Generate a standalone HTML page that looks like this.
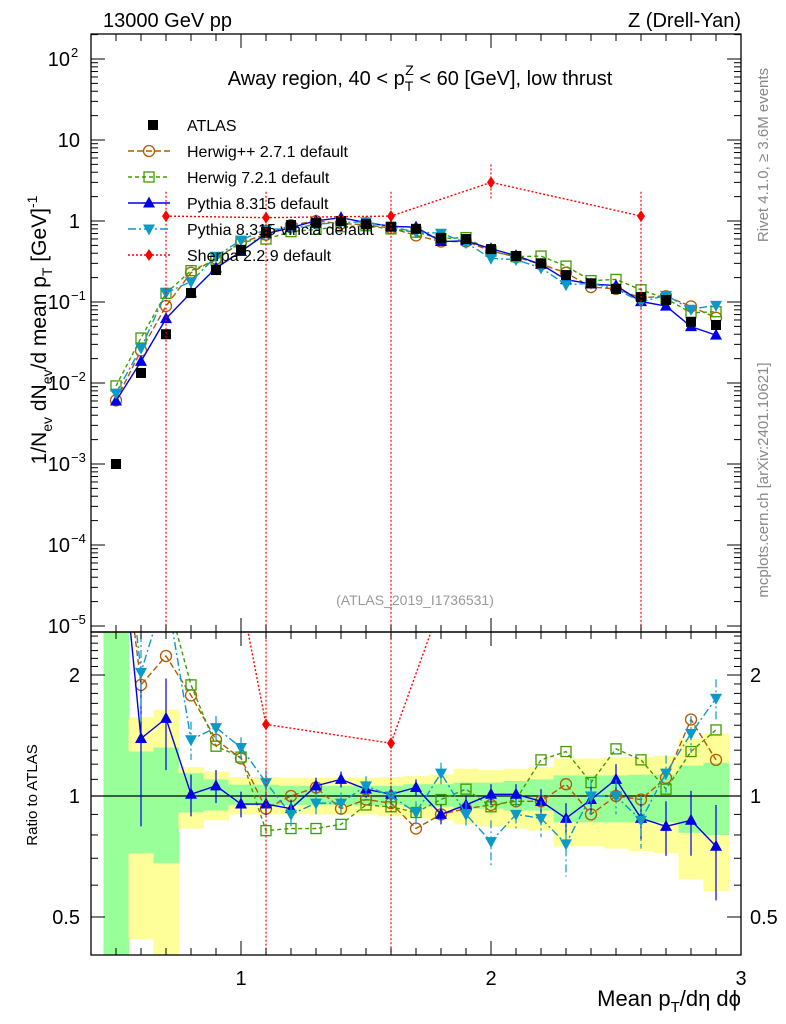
<!DOCTYPE html>
<html><head><meta charset="utf-8"><style>
html,body{margin:0;padding:0;background:#fff;width:786px;height:1024px;overflow:hidden}
svg{display:block;font-family:"Liberation Sans","DejaVu Sans",sans-serif}
</style></head><body>
<svg id="c" width="786" height="1024" viewBox="0 0 786 1024" xmlns="http://www.w3.org/2000/svg">
<defs>
<clipPath id="cm"><rect x="91" y="34" width="650" height="598"/></clipPath>
<clipPath id="cr"><rect x="91" y="632" width="650" height="323"/></clipPath>
</defs>
<g id="bands" clip-path="url(#cr)"></g>
<g id="main" clip-path="url(#cm)"></g>
<g id="ratio" clip-path="url(#cr)"></g>
<g id="axes"></g>
<text x="103" y="27" font-size="20">13000 GeV pp</text>
<text x="741" y="27" font-size="20" text-anchor="end">Z (Drell-Yan)</text>
<text x="420" y="85" font-size="20" text-anchor="middle">Away region, 40 &lt; p<tspan font-size="14" dy="6">T</tspan><tspan font-size="14" dx="-8" dy="-16">Z</tspan><tspan dy="10"> &lt; 60 [GeV], low thrust</tspan></text>
<text x="415" y="605" font-size="14" fill="#999" text-anchor="middle">(ATLAS_2019_I1736531)</text>
<text transform="translate(768,155) rotate(-90)" font-size="15" fill="#888" text-anchor="middle">Rivet 4.1.0, ≥ 3.6M events</text>
<text transform="translate(768,480) rotate(-90)" font-size="15" fill="#888" text-anchor="middle">mcplots.cern.ch [arXiv:2401.10621]</text>
<text transform="translate(46,330) rotate(-90)" font-size="21" text-anchor="middle">1/N<tspan font-size="14" dy="6">ev</tspan><tspan dy="-6"> dN</tspan><tspan font-size="14" dy="6">ev</tspan><tspan dy="-6">/d mean p</tspan><tspan font-size="14" dy="6">T</tspan><tspan dy="-6"> [GeV]</tspan><tspan font-size="14" dy="-9">-1</tspan></text>
<text transform="translate(37,795) rotate(-90)" font-size="15" text-anchor="middle">Ratio to ATLAS</text>
<text x="741" y="1006" font-size="22" text-anchor="end">Mean p<tspan font-size="15" dy="6">T</tspan><tspan dy="-6">/dη dϕ</tspan></text>
<g id="legend"></g>
</svg>
<script>
const xs=[0.5,0.6,0.7,0.8,0.9,1.0,1.1,1.2,1.3,1.4,1.5,1.6,1.7,1.8,1.9,2.0,2.1,2.2,2.3,2.4,2.5,2.6,2.7,2.8,2.9];
const atlas=[0.001,0.0133,0.040,0.129,0.248,0.44,0.73,0.89,0.95,1.0,0.92,0.85,0.80,0.62,0.60,0.45,0.37,0.30,0.215,0.17,0.145,0.115,0.106,0.057,0.052];
const rHerwigpp=[6.1,1.89,2.23,1.78,1.38,1.24,0.93,1.0,1.05,0.93,0.98,0.96,0.83,0.90,0.93,0.95,0.97,0.97,1.07,0.90,1.0,0.98,1.11,1.55,1.23];
const rHerwig7=[9.2,2.7,3.2,1.89,1.33,1.25,0.82,0.83,0.83,0.85,0.95,0.94,0.91,0.98,1.04,0.94,0.98,1.23,1.29,1.08,1.31,1.23,1.04,1.29,1.46];
const rPythia=[6.0,1.39,1.56,1.01,1.06,0.955,0.955,0.93,1.06,1.10,1.04,1.01,1.05,0.90,0.95,1.01,1.01,0.97,0.88,0.98,1.10,0.88,0.84,0.87,0.75];
const rVincia=[7.5,2.03,3.25,1.38,1.48,1.32,1.08,0.90,0.96,0.96,1.06,1.0,0.91,1.14,0.90,0.77,0.90,0.88,0.76,1.0,1.0,0.87,1.14,1.43,1.75];
const ePythia=[0.9,0.55,0.4,0.12,0.1,0.07,0.06,0.05,0.05,0.05,0.05,0.05,0.05,0.05,0.05,0.06,0.06,0.07,0.08,0.08,0.1,0.1,0.13,0.16,0.2];
const eVincia=[1.2,0.5,0.5,0.15,0.1,0.08,0.08,0.06,0.06,0.06,0.06,0.06,0.06,0.07,0.07,0.1,0.08,0.09,0.13,0.1,0.1,0.13,0.12,0.15,0.2];
const sherpaX=[0.7,1.1,1.6,2.0,2.6];
const sherpaY=[1.15,1.1,1.15,3.0,1.15];
const sherpaLo=[1e-6,1e-6,1e-6,1.9,1e-6];
const sherpaHi=[2.3,2.3,2.3,5.0,2.3];
const sherpaRatioBar=[false,true,true,false,false];
const yelHi=[5,1.57,1.64,1.18,1.15,1.115,1.115,1.11,1.11,1.11,1.11,1.115,1.12,1.13,1.17,1.16,1.17,1.18,1.24,1.24,1.25,1.25,1.26,1.39,1.43];
const grnHi=[5,1.29,1.32,1.14,1.10,1.067,1.067,1.06,1.06,1.06,1.06,1.06,1.07,1.07,1.08,1.08,1.09,1.10,1.125,1.125,1.125,1.13,1.13,1.19,1.21];
const grnLo=[0.3,0.72,0.68,0.91,0.92,0.948,0.948,0.95,0.95,0.95,0.95,0.95,0.94,0.94,0.93,0.93,0.92,0.92,0.86,0.86,0.86,0.86,0.86,0.81,0.80];
const yelLo=[0.3,0.44,0.38,0.83,0.87,0.90,0.90,0.90,0.90,0.90,0.90,0.89,0.88,0.87,0.85,0.84,0.83,0.82,0.75,0.75,0.74,0.73,0.72,0.62,0.58];
const ratioTicks=[0.5,1,2];
const mainTickExp=[-5,-4,-3,-2,-1,0,1,2];
const mainTickLabels=["10","10","10","10","10","1","10","10"];
const mainTickSup=["−5","−4","−3","−2","−1","","","2"];
const xMajor=[1,2,3];

const NS="http://www.w3.org/2000/svg";
const X=v=>91+250*(v-0.4);
const YM=v=>221-81*Math.log10(v);
const YR=r=>796-121*Math.log2(r);
function mk(p,t,a){const e=document.createElementNS(NS,t);for(const k in a)e.setAttribute(k,a[k]);p.appendChild(e);return e;}
const gM=document.getElementById('main'),gR=document.getElementById('ratio'),gB=document.getElementById('bands'),gA=document.getElementById('axes'),gL=document.getElementById('legend');

xs.forEach((x,i)=>{
 let r=mk(gB,'rect',{x:X(x-0.05),y:YR(yelHi[i]),width:250*0.1+0.5,height:YR(yelLo[i])-YR(yelHi[i]),fill:'#ffff99'});
 
 let g=mk(gB,'rect',{x:X(x-0.05),y:YR(grnHi[i]),width:250*0.1+0.5,height:YR(grnLo[i])-YR(grnHi[i]),fill:'#99ff99'});
 
});
let one=mk(gR,'line',{x1:91,x2:741,y1:YR(1),y2:YR(1),stroke:'#000','stroke-width':1.2});


function marker(p,type,cx,cy,col){
 let e;
 if(type==='sq')e=mk(p,'rect',{x:cx-5,y:cy-5,width:10,height:10,fill:'#000'});
 else if(type==='circ')e=mk(p,'circle',{cx:cx,cy:cy,r:5.5,fill:'none',stroke:col,'stroke-width':1.3});
 else if(type==='osq')e=mk(p,'rect',{x:cx-5,y:cy-5,width:10,height:10,fill:'none',stroke:col,'stroke-width':1.3});
 else if(type==='up')e=mk(p,'polygon',{points:`${cx},${cy-6.5} ${cx-6},${cy+4.5} ${cx+6},${cy+4.5}`,fill:col});
 else if(type==='dn')e=mk(p,'polygon',{points:`${cx},${cy+6.5} ${cx-6},${cy-4.5} ${cx+6},${cy-4.5}`,fill:col});
 else if(type==='dia')e=mk(p,'polygon',{points:`${cx},${cy-6} ${cx-4},${cy} ${cx},${cy+6} ${cx+4},${cy}`,fill:col});
 return e;
}
const series=[
 {name:'herwigpp',r:rHerwigpp,col:'#b35a00',dash:'6,3',m:'circ',e:null},
 {name:'herwig7',r:rHerwig7,col:'#3f9b00',dash:'4,3',m:'osq',e:null},
 {name:'pythia',r:rPythia,col:'#0000e6',dash:'',m:'up',e:ePythia},
 {name:'vincia',r:rVincia,col:'#0a9ac8',dash:'8,3,2,3',m:'dn',e:eVincia},
];
series.forEach(s=>{
 const mp=xs.map((x,i)=>X(x)+','+YM(atlas[i]*s.r[i])).join(' ');
 let l=mk(gM,'polyline',{points:mp,fill:'none',stroke:s.col,'stroke-width':1.4,'stroke-dasharray':s.dash});
 
 const rp=xs.map((x,i)=>X(x)+','+YR(s.r[i])).join(' ');
 let l2=mk(gR,'polyline',{points:rp,fill:'none',stroke:s.col,'stroke-width':1.4,'stroke-dasharray':s.dash});
 
 xs.forEach((x,i)=>{
  if(s.e){
   let b=mk(gR,'line',{x1:X(x),x2:X(x),y1:YR(s.r[i]+s.e[i]),y2:YR(Math.max(0.05,s.r[i]-s.e[i])),stroke:s.col,'stroke-width':1.2,'stroke-dasharray':s.dash});
   
  }
  let m=marker(gM,s.m,X(x),YM(atlas[i]*s.r[i]),s.col);
  
  let m2=marker(gR,s.m,X(x),YR(s.r[i]),s.col);
  
 });
});
xs.forEach((x,i)=>{
 let m=marker(gM,'sq',X(x),YM(atlas[i]),'#000');
 
});
const atlasAt=x=>atlas[xs.findIndex(v=>Math.abs(v-x)<1e-6)];
let sl=mk(gM,'polyline',{points:sherpaX.map((x,i)=>X(x)+','+YM(sherpaY[i])).join(' '),fill:'none',stroke:'#f00','stroke-width':1.4,'stroke-dasharray':'2,2'});

let sl2=mk(gR,'polyline',{points:sherpaX.map((x,i)=>X(x)+','+YR(sherpaY[i]/atlasAt(x))).join(' '),fill:'none',stroke:'#f00','stroke-width':1.4,'stroke-dasharray':'2,2'});

sherpaX.forEach((x,i)=>{
 let b=mk(gM,'line',{x1:X(x),x2:X(x),y1:YM(sherpaHi[i]),y2:YM(sherpaLo[i]),stroke:'#f00','stroke-width':1.2,'stroke-dasharray':'2,2'});
 
 if(sherpaRatioBar[i]){
  let b2=mk(gR,'line',{x1:X(x),x2:X(x),y1:YR(sherpaHi[i]/atlasAt(x)),y2:YR(Math.max(0.01,sherpaLo[i]/atlasAt(x))),stroke:'#f00','stroke-width':1.2,'stroke-dasharray':'2,2'});
  
 }
 let m=marker(gM,'dia',X(x),YM(sherpaY[i]),'#f00');
 
 let m2=marker(gR,'dia',X(x),YR(sherpaY[i]/atlasAt(x)),'#f00');
 
});

[[34,632],[632,955]].forEach(([t,b])=>{
 let f=mk(gA,'rect',{x:91,y:t,width:650,height:b-t,fill:'none',stroke:'#000','stroke-width':1.3});
 
 for(let k=4;k<=30;k++){const v=k/10,x=X(v),L=(k%10===0)?14:7;
  mk(gA,'line',{x1:x,x2:x,y1:t,y2:t+L,stroke:'#000'});mk(gA,'line',{x1:x,x2:x,y1:b,y2:b-L,stroke:'#000'});}
});
xMajor.forEach(v=>{let t=mk(gA,'text',{x:X(v),y:985,'font-size':20,'text-anchor':'middle'});t.textContent=String(v);
 });
for(let e=-5;e<=2;e++){for(let k=1;k<=9;k++){const v=k*Math.pow(10,e),y=YM(v);if(y<34||y>632)continue;const L=k===1?14:7;
 mk(gA,'line',{x1:91,x2:91+L,y1:y,y2:y,stroke:'#000'});mk(gA,'line',{x1:741,x2:741-L,y1:y,y2:y,stroke:'#000'});}}
mainTickExp.forEach((e,i)=>{const y=YM(Math.pow(10,e))+7;
 let t=mk(gA,'text',{x:mainTickSup[i]?70:80,y:y,'font-size':20,'text-anchor':'end'});t.textContent=mainTickLabels[i];
 
 if(mainTickSup[i]){let s=mk(gA,'text',{x:71,y:y-9,'font-size':13});s.textContent=mainTickSup[i];
  }});
[0.4,0.5,0.6,0.7,0.8,0.9,1,1.1,1.2,1.3,1.4,1.5,1.6,1.7,1.8,1.9,2,2.1,2.2,2.3,2.4,2.5].forEach(v=>{const y=YR(v);if(y<632||y>955)return;
 const L=ratioTicks.includes(v)?14:7;mk(gA,'line',{x1:91,x2:91+L,y1:y,y2:y,stroke:'#000'});mk(gA,'line',{x1:741,x2:741-L,y1:y,y2:y,stroke:'#000'});});
ratioTicks.forEach(v=>{const y=YR(v)+7;
 let t=mk(gA,'text',{x:80,y:y,'font-size':20,'text-anchor':'end'});t.textContent=String(v);
 
 let t2=mk(gA,'text',{x:750,y:y,'font-size':20});t2.textContent=String(v);
 });
const leg=[['ATLAS','sq','#000',''],['Herwig++ 2.7.1 default','circ','#b35a00','6,3'],['Herwig 7.2.1 default','osq','#3f9b00','4,3'],
 ['Pythia 8.315 default','up','#0000e6',''],['Pythia 8.315 vincia default','dn','#0a9ac8','8,3,2,3'],['Sherpa 2.2.9 default','dia','#f00','2,2']];
leg.forEach((l,i)=>{const y=125+26*i;
 if(i>0){let ln=mk(gL,'line',{x1:128,x2:170,y1:y,y2:y,stroke:l[2],'stroke-width':1.4,'stroke-dasharray':l[3]});
  }
 let m=marker(gL,l[1],l[1]==='sq'?153:149,y,l[2]);
 let t=mk(gL,'text',{x:187,y:y+6,'font-size':16});t.textContent=l[0];
 });
</script>
</body></html>
